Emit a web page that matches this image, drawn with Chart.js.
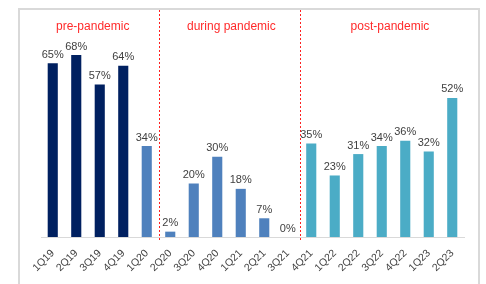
<!DOCTYPE html>
<html>
<head>
<meta charset="utf-8">
<script src="https://cdn.jsdelivr.net/npm/chart.js@4/dist/chart.umd.min.js"></script>
<style>
  html, body { margin: 0; padding: 0; background: #fff; }
  #wrap { width: 486px; height: 284px; position: relative; }
</style>
</head>
<body>
<div id="wrap"><canvas id="quarterChart"></canvas></div>
<script>
const quarters = ['1Q19','2Q19','3Q19','4Q19','1Q20','2Q20','3Q20','4Q20','1Q21','2Q21','3Q21','4Q21','1Q22','2Q22','3Q22','4Q22','1Q23','2Q23'];
const shares = [65, 68, 57, 64, 34, 2, 20, 30, 18, 7, 0, 35, 23, 31, 34, 36, 32, 52];
// which period each quarter belongs to: 0 = pre, 1 = during, 2 = post
const periodOf = [0, 0, 0, 0, 1, 1, 1, 1, 1, 1, 1, 2, 2, 2, 2, 2, 2, 2];
const periodNames = ['pre-pandemic', 'during pandemic', 'post-pandemic'];
const periodColors = ['#002060', '#4f81bd', '#4bacc6'];
const barColors = periodOf.map(p => periodColors[p]);

// frame, dividers, period titles and value labels
const decorPlugin = {
  id: 'decor',
  beforeDraw(chart) {
    const ctx = chart.ctx;
    ctx.save();
    ctx.fillStyle = '#fff';
    ctx.fillRect(0, 0, chart.width, chart.height);
    ctx.strokeStyle = '#d9d9d9';
    ctx.lineWidth = 2;
    ctx.strokeRect(19, 9, 460, 300);
    ctx.restore();
  },
  afterDatasetsDraw(chart) {
    const ctx = chart.ctx;
    const x = chart.scales.x;
    ctx.save();

    // dashed dividers between periods
    ctx.strokeStyle = '#ff2020';
    ctx.lineWidth = 1;
    ctx.setLineDash([2, 2]);
    [4.5, 10.5].forEach(v => {
      const px = Math.round(x.getPixelForValue(v)) + 0.5;
      ctx.beginPath();
      ctx.moveTo(px, 10);
      ctx.lineTo(px, 241);
      ctx.stroke();
    });
    ctx.setLineDash([]);

    // period titles
    ctx.fillStyle = '#ff2a2a';
    ctx.font = '12px "Liberation Sans", Arial, sans-serif';
    ctx.textAlign = 'center';
    ctx.textBaseline = 'middle';
    [1.7, 7.6, 14.35].forEach((v, i) => {
      ctx.fillText(periodNames[i], x.getPixelForValue(v), 27);
    });

    // value labels
    ctx.fillStyle = '#404040';
    ctx.font = '11px "Liberation Sans", Arial, sans-serif';
    ctx.textBaseline = 'bottom';
    chart.getDatasetMeta(0).data.forEach((bar, i) => {
      ctx.fillText(shares[i] + '%', bar.x, bar.y - 3);
    });
    ctx.restore();
  }
};

new Chart(document.getElementById('quarterChart'), {
  type: 'bar',
  data: {
    labels: quarters,
    datasets: [{
      data: shares,
      backgroundColor: barColors,
      categoryPercentage: 1,
      barPercentage: 0.43
    }]
  },
  options: {
    responsive: true,
    maintainAspectRatio: false,
    animation: false,
    layout: { padding: { top: 23, left: 41, right: 22, bottom: 0 } },
    plugins: {
      legend: { display: false },
      tooltip: { enabled: false }
    },
    scales: {
      x: {
        grid: { display: false },
        border: { display: true, color: '#d9d9d9', width: 1 },
        ticks: {
          minRotation: 45,
          maxRotation: 45,
          color: '#404040',
          padding: 2,
          font: { family: '"Liberation Sans", Arial, sans-serif', size: 10.5 }
        },
        afterFit(scale) { scale.height = 47; }
      },
      y: {
        display: false,
        min: 0,
        max: 80
      }
    }
  },
  plugins: [decorPlugin]
});
</script>
</body>
</html>
